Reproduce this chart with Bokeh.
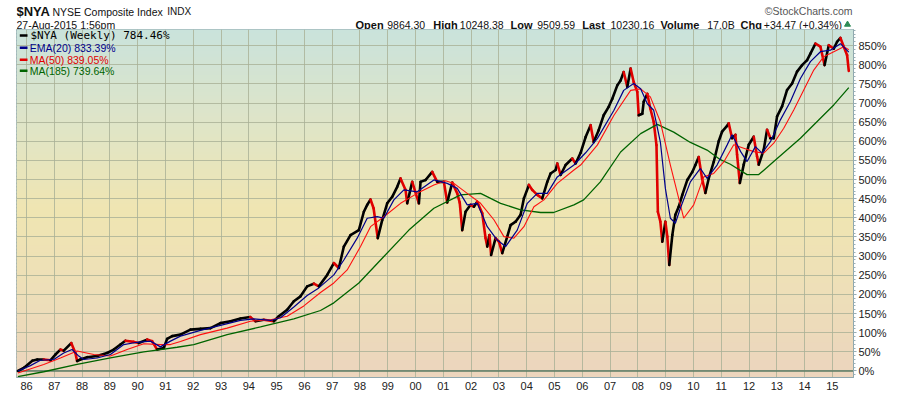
import numpy as np
from bokeh.plotting import figure
from bokeh.layouts import column
from bokeh.models import (Range1d, FixedTicker, Label, BoxAnnotation, Span,
                          PrintfTickFormatter, ColumnDataSource)
from bokeh.core.properties import value
from bokeh.embed import file_html
from bokeh.resources import INLINE

# ---------------- data ----------------
price_t = [1985.69, 1985.90, 1986.21, 1986.39, 1986.62, 1986.86, 1987.04, 1987.22, 1987.34, 1987.61,
           1987.76, 1987.82, 1987.94, 1988.18, 1988.54, 1988.90, 1989.14, 1989.38, 1989.56, 1989.86,
           1990.04, 1990.34, 1990.52, 1990.70, 1990.94, 1991.06, 1991.24, 1991.54, 1991.90, 1992.26,
           1992.62, 1992.98, 1993.34, 1993.70, 1994.05, 1994.24, 1994.54, 1994.90, 1995.08, 1995.38,
           1995.62, 1995.86, 1996.10, 1996.34, 1996.52, 1996.82, 1997.06, 1997.24, 1997.42, 1997.66,
           1997.96, 1998.14, 1998.26, 1998.38, 1998.49, 1998.64, 1998.80, 1998.98, 1999.16, 1999.34,
           1999.46, 1999.64, 1999.70, 1999.88, 2000.12, 2000.18, 2000.36, 2000.60, 2000.78, 2001.02,
           2001.14, 2001.32, 2001.50, 2001.59, 2001.68, 2001.80, 2001.98, 2002.10, 2002.22, 2002.40,
           2002.52, 2002.58, 2002.66, 2002.72, 2002.88, 2003.00, 2003.12, 2003.30, 2003.42, 2003.60,
           2003.78, 2003.90, 2004.08, 2004.20, 2004.38, 2004.56, 2004.74, 2004.86, 2005.04, 2005.10,
           2005.22, 2005.40, 2005.64, 2005.76, 2005.94, 2006.12, 2006.30, 2006.41, 2006.59, 2006.77,
           2006.95, 2007.08, 2007.26, 2007.38, 2007.49, 2007.62, 2007.74, 2007.85, 2007.98, 2008.03,
           2008.16, 2008.21, 2008.34, 2008.45, 2008.57, 2008.67, 2008.72, 2008.81, 2008.88, 2008.99,
           2009.06, 2009.13, 2009.24, 2009.35, 2009.47, 2009.60, 2009.78, 2009.96, 2010.07, 2010.19,
           2010.31, 2010.43, 2010.55, 2010.73, 2010.91, 2011.03, 2011.21, 2011.27, 2011.39, 2011.51,
           2011.57, 2011.67, 2011.81, 2011.99, 2012.17, 2012.29, 2012.35, 2012.53, 2012.65, 2012.77,
           2012.89, 2013.01, 2013.19, 2013.37, 2013.55, 2013.73, 2013.91, 2014.09, 2014.21, 2014.39,
           2014.57, 2014.72, 2014.87, 2015.05, 2015.17, 2015.29, 2015.41, 2015.53, 2015.59]
price_v = [0, 8, 27, 30, 30, 28, 43, 56, 53, 73,
           47, 26, 30, 36, 39, 47, 56, 69, 79, 76,
           73, 82, 78, 56, 60, 84, 91, 95, 108, 110,
           112, 125, 130, 137, 141, 130, 134, 130, 143, 160,
           182, 195, 221, 228, 221, 251, 282, 269, 325, 355,
           368, 416, 434, 448, 425, 347, 394, 438, 455, 481,
           503, 473, 438, 494, 438, 494, 499, 520, 494, 494,
           440, 492, 464, 440, 368, 416, 434, 429, 442, 412,
           347, 325, 355, 303, 347, 338, 308, 351, 381, 390,
           408, 451, 486, 473, 460, 451, 494, 516, 525, 542,
           512, 538, 555, 542, 570, 611, 642, 598, 629, 668,
           690, 711, 746, 759, 781, 742, 790, 755, 729, 668,
           672, 703, 724, 685, 651, 590, 416, 390, 338, 390,
           351, 277, 355, 408, 429, 460, 499, 520, 538, 559,
           503, 465, 503, 546, 600, 625, 640, 647, 608, 617,
           565, 491, 539, 591, 612, 560, 539, 578, 630, 608,
           608, 665, 691, 734, 751, 782, 799, 812, 829, 855,
           847, 799, 851, 842, 860, 870, 847, 825, 784]

ema20_t = [1985.69, 1986.14, 1986.50, 1986.98, 1987.34, 1987.64, 1987.88, 1988.06, 1988.54, 1989.02,
           1989.50, 1989.98, 1990.46, 1990.82, 1991.18, 1991.54, 1992.26, 1992.98, 1993.70, 1994.18,
           1994.78, 1995.14, 1995.62, 1996.10, 1996.52, 1997.06, 1997.42, 1997.90, 1998.26, 1998.62,
           1998.86, 1999.22, 1999.58, 2000.06, 2000.66, 2001.14, 2001.50, 2001.86, 2002.22, 2002.58,
           2002.94, 2003.24, 2003.66, 2004.02, 2004.38, 2004.74, 2005.10, 2005.70, 2006.12, 2006.54,
           2007.14, 2007.49, 2007.85, 2008.10, 2008.34, 2008.57, 2008.81, 2008.99, 2009.17, 2009.35,
           2009.53, 2009.89, 2010.25, 2010.49, 2010.85, 2011.21, 2011.39, 2011.70, 2011.93, 2012.23,
           2012.47, 2012.77, 2013.13, 2013.49, 2013.85, 2014.21, 2014.57, 2014.93, 2015.29, 2015.59]
ema20_v = [0, 14, 28, 30, 47, 56, 39, 30, 34, 43,
           69, 75, 78, 63, 78, 91, 106, 119, 132, 136,
           132, 139, 167, 197, 217, 251, 290, 347, 399, 403,
           399, 447, 473, 468, 499, 490, 477, 434, 438, 377,
           342, 325, 368, 438, 464, 464, 507, 538, 570, 607,
           681, 733, 751, 737, 698, 681, 598, 477, 399, 386,
           425, 494, 529, 503, 538, 590, 617, 573, 547, 586,
           569, 599, 656, 704, 764, 808, 834, 838, 855, 833]

ma50_t = [1985.69, 1986.62, 1987.22, 1987.82, 1988.42, 1989.02, 1989.62, 1990.22, 1990.82, 1991.18,
          1991.54, 1992.26, 1993.22, 1994.06, 1994.78, 1995.38, 1995.98, 1996.58, 1997.06, 1997.54,
          1998.02, 1998.38, 1998.86, 1999.46, 2000.06, 2000.66, 2001.08, 2001.38, 2001.86, 2002.34,
          2002.82, 2003.18, 2003.54, 2003.90, 2004.26, 2004.62, 2005.10, 2005.70, 2005.94, 2006.54,
          2007.14, 2007.74, 2008.10, 2008.45, 2008.81, 2009.17, 2009.47, 2009.65, 2010.01, 2010.37,
          2010.73, 2011.09, 2011.45, 2011.81, 2012.17, 2012.53, 2012.89, 2013.25, 2013.61, 2013.97,
          2014.33, 2014.69, 2015.05, 2015.41, 2015.59]
ma50_v = [-5, 17, 34, 52, 43, 39, 56, 71, 69, 69,
          77, 95, 112, 130, 134, 143, 170, 205, 230, 264,
          325, 377, 403, 438, 464, 486, 497, 490, 464, 438,
          395, 351, 347, 377, 429, 447, 490, 525, 538, 590,
          668, 733, 737, 716, 651, 538, 451, 399, 434, 507,
          516, 546, 591, 582, 573, 569, 595, 634, 682, 734,
          786, 821, 834, 847, 839]

ma185_t = [1985.69, 1986.62, 1987.82, 1989.02, 1990.22, 1990.82, 1991.42, 1992.02, 1993.22, 1994.42,
           1995.62, 1996.58, 1997.06, 1997.96, 1998.86, 1999.76, 2000.66, 2001.62, 2002.34, 2003.06,
           2003.78, 2004.50, 2004.97, 2005.70, 2006.05, 2006.65, 2007.38, 2008.10, 2008.70, 2009.29,
           2009.89, 2010.49, 2010.97, 2011.33, 2011.93, 2012.35, 2012.89, 2013.85, 2014.57, 2015.05,
           2015.59]
ma185_v = [-15, -2, 17, 34, 50, 56, 62, 69, 95, 115,
           136, 158, 178, 230, 299, 368, 425, 460, 464, 438,
           421, 414, 414, 434, 447, 494, 572, 620, 644, 624,
           597, 577, 552, 540, 513, 513, 547, 608, 660, 695,
           740]

year_ticks = list(range(1986, 2016))
year_labels = ["86", "87", "88", "89", "90", "91", "92", "93", "94", "95",
               "96", "97", "98", "99", "00", "01", "02", "03", "04", "05",
               "06", "07", "08", "09", "10", "11", "12", "13", "14", "15"]
pct_ticks = list(range(0, 900, 50))

legend_items = [("$NYA (Weekly) 784.46%", "black"),
                ("EMA(20) 833.39%", "#00008b"),
                ("MA(50) 839.05%", "#e00000"),
                ("MA(185) 739.64%", "#006400")]
quote_items = [("Open", "9864.30"), ("High", "10248.38"), ("Low", "9509.59"),
               ("Last", "10230.16"), ("Volume", "17.0B"), ("Chg", "+34.47 (+0.34%)")]

W = 892
HEAD_H = 29
MAIN_H = 365
FONT = "Liberation Sans"
LEFT_B = 16
RIGHT_B = W - 853

# ---------------- header strip (frame spans page x 16..853) ----------------
h = figure(width=W, height=HEAD_H, output_backend="svg", toolbar_location=None,
           x_range=Range1d(LEFT_B, W - RIGHT_B), y_range=Range1d(HEAD_H, 0),
           x_axis_type=None, y_axis_type=None,
           min_border_left=LEFT_B, min_border_right=RIGHT_B,
           min_border_top=0, min_border_bottom=0)
h.outline_line_color = None
h.background_fill_color = "white"
h.border_fill_color = "white"
h.grid.visible = False


def htext(xs, ys, texts, size="11px", style="normal", color="#111111", align="left",
          font=FONT):
    h.text(x=xs, y=ys, text=texts, text_font=value(font), text_font_size=value(size),
           text_font_style=style, text_color=color, text_align=align,
           text_baseline="middle")


htext([16], [11], ["$NYA"], size="13px", style="bold")
htext([52], [11], ["NYSE Composite Index"], size="10.5px")
htext([166.7], [11], ["INDX"], size="10px")
htext([16], [24], ["27-Aug-2015 1:56pm"], size="10.5px")
htext([852], [10], ["\u00a9StockCharts.com"], size="10.5px", color="#555555", align="right")

name_x = [355, 432.7, 510, 581.7, 660, 740]
val_x = [386.7, 459.3, 536.7, 610, 706.7, 763.3]
htext(name_x, [24] * len(name_x), [q[0] for q in quote_items], size="11px", style="bold")
htext(val_x, [24] * len(val_x), [q[1] for q in quote_items], size="10.5px")
h.scatter(x=[847], y=[24], marker="triangle", size=6, fill_color="#2e8b57",
          line_color="#2e8b57")

# ---------------- main chart ----------------
X0, X1 = 1985.64, 2015.76
Y0, Y1 = -17, 892
p = figure(width=W, height=MAIN_H, output_backend="svg", toolbar_location=None,
           x_range=Range1d(X0, X1), y_range=Range1d(Y0, Y1),
           y_axis_location="right",
           min_border_left=LEFT_B, min_border_right=RIGHT_B, min_border_top=0,
           min_border_bottom=17)
p.background_fill_color = "white"
p.border_fill_color = "white"
p.outline_line_color = "#8fa7ae"
p.outline_line_width = 1

# gradient background (vertical)
stop_v = [-17, 200, 420, 650, 892]
stop_c = [(236, 213, 190), (238, 223, 185), (240, 230, 178), (223, 229, 200), (202, 227, 220)]
n = 100
edges = np.linspace(Y0, Y1, n + 1)
mids = (edges[:-1] + edges[1:]) / 2
cols = []
for m in mids:
    r = np.interp(m, stop_v, [c[0] for c in stop_c])
    g = np.interp(m, stop_v, [c[1] for c in stop_c])
    b = np.interp(m, stop_v, [c[2] for c in stop_c])
    cols.append("#%02x%02x%02x" % (int(r), int(g), int(b)))
step = edges[1] - edges[0]
bg = p.quad(left=X0, right=X1, bottom=edges[:-1], top=edges[1:] + step * 0.6,
            fill_color=cols, line_color=None)
bg.level = "image"

# grids
p.xgrid.ticker = FixedTicker(ticks=year_ticks)
p.ygrid.ticker = FixedTicker(ticks=pct_ticks)
for g in (p.xgrid, p.ygrid):
    g.grid_line_color = "#a9b096"
    g.grid_line_alpha = 0.8
    g.grid_line_width = 1

zero = Span(location=0, dimension="width", line_color="#5d7b66", line_width=1.5, level="underlay")
p.add_layout(zero)

# axes
xa = p.xaxis[0]
xa.ticker = FixedTicker(ticks=year_ticks)
xa.major_label_overrides = {t: lab for t, lab in zip(year_ticks, year_labels)}
xa.major_tick_out = 0
xa.major_tick_in = 0
xa.minor_tick_out = 0
xa.minor_tick_in = 0
xa.major_label_standoff = 4
xa.axis_line_color = "#8fa7ae"

ya = p.yaxis[0]
ya.ticker = FixedTicker(ticks=pct_ticks, minor_ticks=list(range(-10, 900, 10)))
ya.formatter = PrintfTickFormatter(format="%d%%")
ya.major_tick_out = 3
ya.major_tick_in = 0
ya.minor_tick_out = 2
ya.minor_tick_in = 0
ya.major_label_standoff = 2
ya.axis_line_color = "#8fa7ae"
ya.major_tick_line_color = "#8fa7ae"
ya.minor_tick_line_color = "#9ab0b6"

for ax in (xa, ya):
    ax.major_label_text_font = FONT
    ax.major_label_text_font_size = "11px"
    ax.major_label_text_color = "#222222"

# price: up segments black, down segments red
x0 = price_t[:-1]
x1 = price_t[1:]
y0 = price_v[:-1]
y1 = price_v[1:]
seg_col = ["black" if b >= a else "#e00000" for a, b in zip(y0, y1)]
src = ColumnDataSource(dict(x0=x0, x1=x1, y0=y0, y1=y1, c=seg_col))
p.segment(x0="x0", y0="y0", x1="x1", y1="y1", line_color="c", line_width=2.6,
          line_cap="round", source=src)

# moving averages
p.line(ma185_t, ma185_v, line_color="#006400", line_width=1.3)
p.line(ma50_t, ma50_v, line_color="#ff1010", line_width=1.1)
p.line(ema20_t, ema20_v, line_color="#00008b", line_width=1.2)

# legend inside the frame (screen units relative to frame)
FB = HEAD_H + (MAIN_H - 17)   # page y of frame bottom
FL = float(LEFT_B)


def lab(px, py, text, size="11px", color="#111111", font=FONT):
    p.add_layout(Label(x=px - FL, y=FB - py, x_units="screen", y_units="screen", text=text,
                       text_font=font, text_font_size=size, text_color=color,
                       text_align="left", text_baseline="middle"))


leg_y = [35, 47.3, 59.3, 70.3]
for i, ((txt, col), ly) in enumerate(zip(legend_items, leg_y)):
    p.add_layout(BoxAnnotation(left=19.3 - FL, right=27 - FL,
                               bottom=FB - ly - 1.3, top=FB - ly + 1.3,
                               left_units="screen", right_units="screen",
                               bottom_units="screen", top_units="screen",
                               fill_color=col, fill_alpha=1.0, line_color=None))
    if i == 0:
        lab(30, ly, txt, size="11px", color=col, font="DejaVu Sans Mono")
    else:
        lab(29.3, ly, txt, size="10.5px", color=col)

open("out.html", "w").write(file_html(column(h, p, spacing=0), INLINE))
